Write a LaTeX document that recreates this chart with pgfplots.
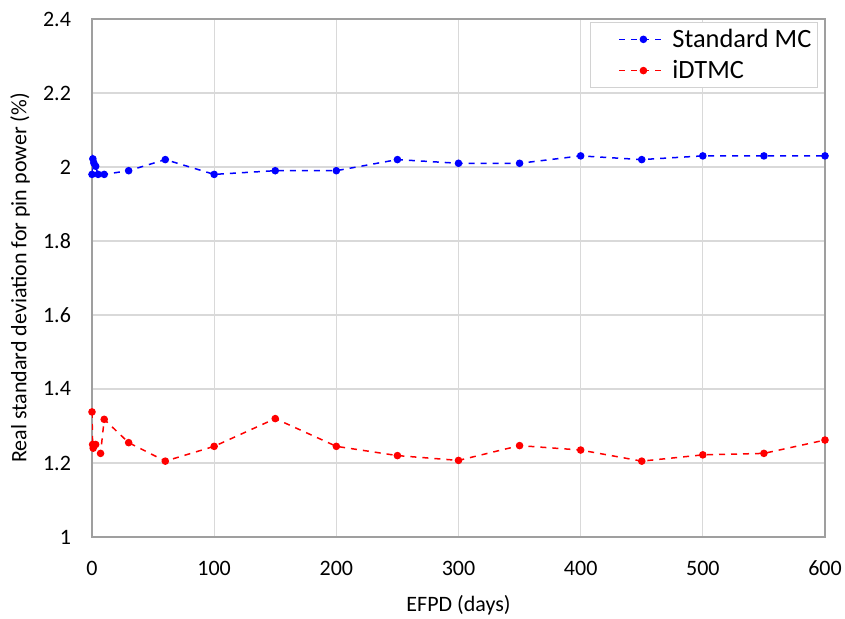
\documentclass[border=0pt]{standalone}
\usepackage{pgfplots}
\pgfplotsset{compat=1.18}
\usepackage{fontspec}
\setmainfont{Carlito}
\begin{document}
\begin{tikzpicture}
\begin{axis}[
  name=ax,
  scale only axis,
  width=366.5pt, height=259pt,
  xmin=0, xmax=600, ymin=1, ymax=2.4,
  xtick={0,100,...,600},
  ytick={1,1.2,...,2.4},
  yticklabels={1,1.2,1.4,1.6,1.8,2,2.2,2.4},
  /pgf/number format/assume math mode=true,
  tick label style={font=\fontsize{11}{13}\selectfont},
  label style={font=\fontsize{11}{13}\selectfont},
  xlabel={EFPD (days)},
  ylabel={Real standard deviation for pin power (\%)},
  xlabel style={at={(axis description cs:0.5,-0.1313)}, anchor=center},
  ylabel style={at={(axis description cs:-0.0982,0.5)}, anchor=center},
  xticklabel style={yshift=-8.5pt},
  yticklabel style={xshift=-7pt},
  major tick length=0pt,
  grid=major,
  grid style={gray!30, line width=0.6pt},
  axis line style={gray!75, line width=0.7pt},
  legend style={at={(axis description cs:0.9905,0.994)}, anchor=north east, font=\fontsize{13.2}{15}\selectfont,
    draw=gray!35, fill=white, line width=0.6pt,
    inner xsep=1pt, inner ysep=1pt, row sep=1pt},
  legend cell align=left,
  legend image code/.code={
    \pgfpathrectangle{\pgfpoint{0pt}{-3pt}}{\pgfpoint{38pt}{6pt}}\pgfusepath{use as bounding box}
    \draw[#1, /tikz/mark=none, line width=0.75pt] (13.5pt,0pt) -- (35pt,0pt);
    \fill[#1, /tikz/solid] (25.5pt,0pt) circle (1.5pt);},
]
\addplot[blue, dashed, line width=0.75pt, mark=*, mark size=1.5pt, mark options={solid}] coordinates {
(0,1.98) (0.7,2.022) (1.5,2.011) (3,2.002) (5,1.98) (10,1.98) (30,1.99) (60,2.02)
(100,1.98) (150,1.99) (200,1.99) (250,2.02) (300,2.01) (350,2.01) (400,2.03)
(450,2.02) (500,2.03) (550,2.03) (600,2.03)};
\addlegendentry{Standard MC}
\addplot[red, dashed, line width=0.75pt, mark=*, mark size=1.5pt, mark options={solid}] coordinates {
(0,1.338) (0.5,1.25) (1,1.24) (3,1.25) (7,1.226) (10,1.318) (30,1.255) (60,1.205)
(100,1.245) (150,1.32) (200,1.245) (250,1.22) (300,1.207) (350,1.247) (400,1.235)
(450,1.205) (500,1.222) (550,1.226) (600,1.262)};
\addlegendentry{iDTMC}
\end{axis}
\pgfresetboundingbox
\path ([shift={(-46pt,-41pt)}]ax.south west) rectangle ([shift={(10pt,9.5pt)}]ax.north east);
\end{tikzpicture}
\end{document}
